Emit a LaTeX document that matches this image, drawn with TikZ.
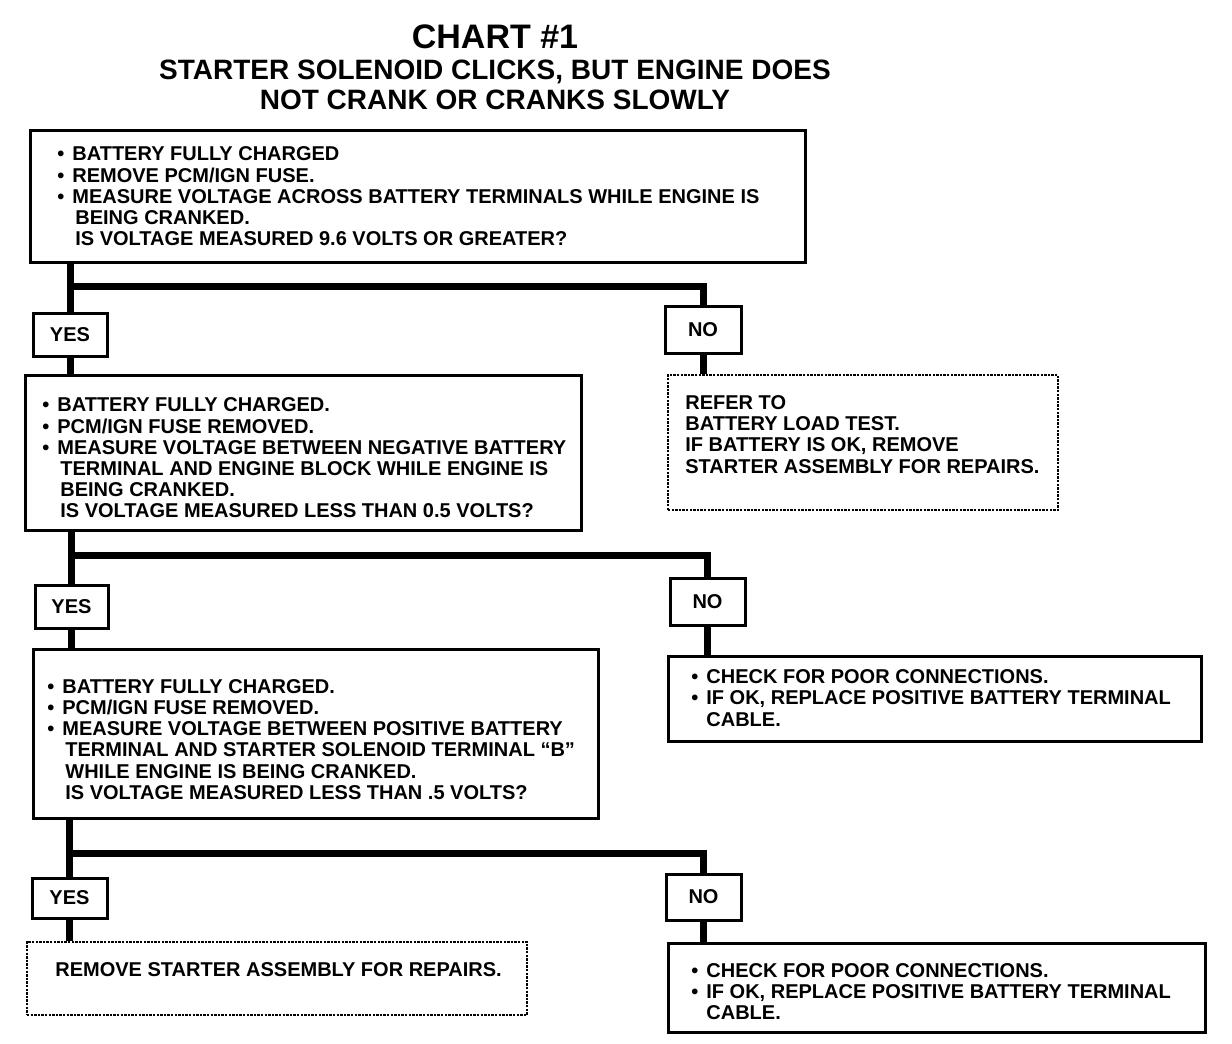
\documentclass[tikz,border=0pt]{standalone}
\usepackage{fontspec}
\setmainfont{Liberation Sans}
\newcommand{\bul}{\makebox[7.5pt][l]{•}}
\newcommand{\ind}{\hspace*{9pt}}
\begin{document}
\begin{tikzpicture}[x=0.5pt, y=-0.5pt,
  solidbox/.style={draw, line width=1.5pt, fill=white, inner sep=0pt},
  dotbox/.style={draw, line width=0.9pt, dash pattern=on 1.2pt off 0.6pt, fill=white, inner sep=0pt},
  answer/.style={draw, line width=1.5pt, fill=white, inner sep=0pt, font=\bfseries\fontsize{10}{10.6}\selectfont},
  txt/.style={anchor=west, align=left, inner sep=0pt, font=\bfseries\fontsize{10}{10.6}\selectfont},
  link/.style={line width=3.5pt}]
  \useasboundingbox (0,0) rectangle (1232,1044);
  % title
  \node[font=\bfseries\fontsize{17}{20}\selectfont, inner sep=0pt] (title) at (495,37) {CHART \#1};
  \node[font=\bfseries\fontsize{14}{15}\selectfont, align=center, inner sep=0pt] (subtitle) at (495,85)
    {STARTER SOLENOID CLICKS, BUT ENGINE DOES\\NOT CRANK OR CRANKS SLOWLY};
  % question boxes
  \node[solidbox, minimum width=387.5pt, minimum height=66pt] (q1) at (417.5,196) {};
  \node[solidbox, minimum width=278pt, minimum height=77.5pt] (q2) at (303,452.5) {};
  \node[solidbox, minimum width=282.5pt, minimum height=84.5pt] (q3) at (315.5,733.5) {};
  % answer boxes
  \node[answer, minimum width=37pt, minimum height=21.5pt] (y1) at (70,334.5) {YES};
  \node[answer, minimum width=38pt, minimum height=23.5pt] (n1) at (703,329.5) {NO};
  \node[answer, minimum width=36.5pt, minimum height=21.5pt] (y2) at (71.5,606.5) {YES};
  \node[answer, minimum width=37.5pt, minimum height=23.5pt] (n2) at (707.5,601.5) {NO};
  \node[answer, minimum width=37.5pt, minimum height=20pt] (y3) at (69.5,898) {YES};
  \node[answer, minimum width=37.5pt, minimum height=23pt] (n3) at (703.5,897) {NO};
  % result boxes
  \node[dotbox, minimum width=195pt, minimum height=67.5pt] (a1) at (863,442.5) {};
  \node[solidbox, minimum width=266.5pt, minimum height=42.5pt] (a2) at (934.5,698.5) {};
  \node[dotbox, minimum width=250pt, minimum height=36.5pt] (a3) at (277,978.5) {};
  \node[solidbox, minimum width=268.5pt, minimum height=44.5pt] (a4) at (936.5,987.5) {};
  % connectors
  \coordinate (j1) at (70,286);
  \coordinate (j2) at (70,555);
  \coordinate (j3) at (70,853);
  \draw[link] (y1.north |- q1.south) -- (y1.north);
  \draw[link] (j1) -| (n1.north);
  \draw[link] (y1.south) -- (y1.south |- q2.north);
  \draw[link] (n1.south) -- (n1.south |- a1.north);
  \draw[link] (y2.north |- q2.south) -- (y2.north);
  \draw[link] (j2) -| (n2.north);
  \draw[link] (y2.south) -- (y2.south |- q3.north);
  \draw[link] (n2.south) -- (n2.south |- a2.north);
  \draw[link] (y3.north |- q3.south) -- (y3.north);
  \draw[link] (j3) -| (n3.north);
  \draw[link] (y3.south) -- (y3.south |- a3.north);
  \draw[link] (n3.south) -- (n3.south |- a4.north);
  % texts
  \node[txt] (t1) at (57,196.5) {\bul BATTERY FULLY CHARGED\\
    \bul REMOVE PCM/IGN FUSE.\\
    \bul MEASURE VOLTAGE ACROSS BATTERY TERMINALS WHILE ENGINE IS\\
    \ind BEING CRANKED.\\
    \ind IS VOLTAGE MEASURED 9.6 VOLTS OR GREATER?};
  \node[txt] (t2) at (42,458) {\bul BATTERY FULLY CHARGED.\\
    \bul PCM/IGN FUSE REMOVED.\\
    \bul MEASURE VOLTAGE BETWEEN NEGATIVE BATTERY\\
    \ind TERMINAL AND ENGINE BLOCK WHILE ENGINE IS\\
    \ind BEING CRANKED.\\
    \ind IS VOLTAGE MEASURED LESS THAN 0.5 VOLTS?};
  \node[txt] (t3) at (47,739.5) {\bul BATTERY FULLY CHARGED.\\
    \bul PCM/IGN FUSE REMOVED.\\
    \bul MEASURE VOLTAGE BETWEEN POSITIVE BATTERY\\
    \ind TERMINAL AND STARTER SOLENOID TERMINAL “B”\\
    \ind WHILE ENGINE IS BEING CRANKED.\\
    \ind IS VOLTAGE MEASURED LESS THAN .5 VOLTS?};
  \node[txt] (t4) at (685,434.5) {REFER TO\\
    BATTERY LOAD TEST.\\
    IF BATTERY IS OK, REMOVE\\
    STARTER ASSEMBLY FOR REPAIRS.};
  \node[txt] (t5) at (691,698) {\bul CHECK FOR POOR CONNECTIONS.\\
    \bul IF OK, REPLACE POSITIVE BATTERY TERMINAL\\
    \hspace*{7.5pt}CABLE.};
  \node[txt] (t6) at (55,970) {REMOVE STARTER ASSEMBLY FOR REPAIRS.};
  \node[txt] (t7) at (691,991.5) {\bul CHECK FOR POOR CONNECTIONS.\\
    \bul IF OK, REPLACE POSITIVE BATTERY TERMINAL\\
    \hspace*{7.5pt}CABLE.};
\end{tikzpicture}
\end{document}
